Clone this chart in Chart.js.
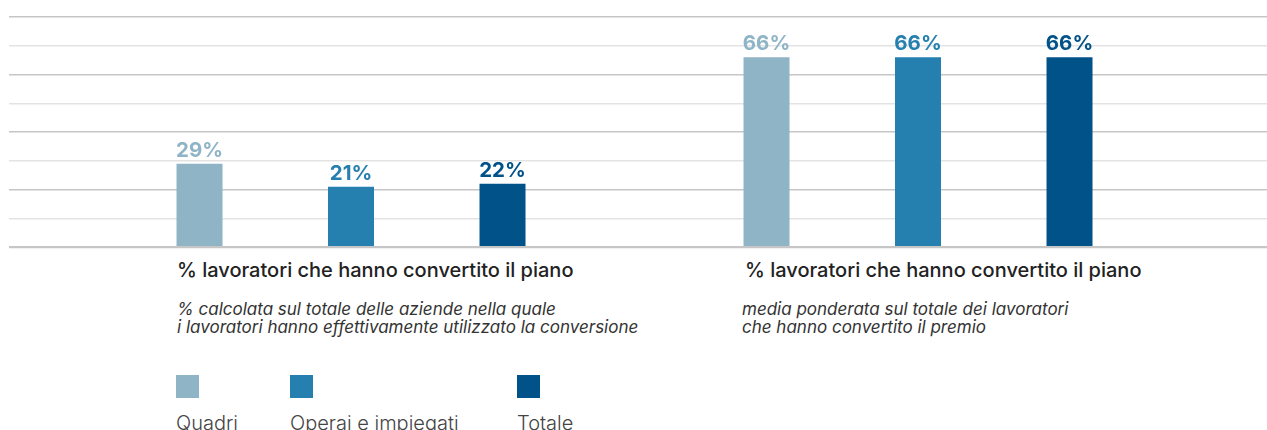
<!DOCTYPE html>
<html lang="it">
<head>
    <meta charset="UTF-8">
    <title>Lavoratori che hanno convertito il piano</title>
    <script src="https://cdn.jsdelivr.net/npm/chart.js"></script>
    <style>
        body { margin: 0; background: #fff; font-family: Inter, "Liberation Sans", sans-serif; }
        #wrap { position: relative; width: 1267px; height: 430px; overflow: hidden; }
        #chartBox { position: absolute; left: 0; top: 0; width: 1267px; height: 250px; }
        .title { position: absolute; top: 260px; font-size: 20px; line-height: 20px; font-weight: 500; color: #222; white-space: nowrap; }
        .note { position: absolute; top: 300px; font-size: 17px; line-height: 18px; font-style: italic; color: #333; white-space: nowrap; }
        .leg { position: absolute; top: 375px; }
        .leg .box { width: 23px; height: 23px; }
        .leg .txt { margin-top: 15px; font-size: 20px; line-height: 20px; font-weight: 300; color: #444; white-space: nowrap; }
    </style>
</head>
<body>
<div id="wrap">
    <div id="chartBox"><canvas id="graphCanvas"></canvas></div>
</div>

<script>
    // group titles and notes (x position of each group = its index)
    const groups = ['% lavoratori che hanno convertito il piano', '% lavoratori che hanno convertito il piano'];
    const notes = [
        ['% calcolata sul totale delle aziende nella quale', 'i lavoratori hanno effettivamente utilizzato la conversione'],
        ['media ponderata sul totale dei lavoratori', 'che hanno convertito il premio']
    ];

    // series
    const seriesNames = ['Quadri', 'Operai e impiegati', 'Totale'];
    const quadri = [29, 66];
    const operai = [21, 66];
    const totale = [22, 66];
    const colors = ['#8fb4c6', '#2580b0', '#02528a'];

    const yTicks = [0, 10, 20, 30, 40, 50, 60, 70, 80];

    const seriesValues = [quadri, operai, totale];
    const datasets = seriesNames.map((name, s) => ({
        label: name,
        data: seriesValues[s].map((v, i) => ({ x: i, y: v })),
        backgroundColor: colors[s],
        borderWidth: 0,
        categoryPercentage: 0.8016,
        barPercentage: 0.3036
    }));

    // value labels above bars, in the bar colour
    const valueLabels = {
        id: 'valueLabels',
        afterDatasetsDraw(chart) {
            const ctx = chart.ctx;
            ctx.save();
            ctx.font = '700 20.5px Inter, "Liberation Sans", sans-serif';
            ctx.textAlign = 'center';
            ctx.textBaseline = 'alphabetic';
            chart.data.datasets.forEach((ds, d) => {
                chart.getDatasetMeta(d).data.forEach((bar, i) => {
                    ctx.fillStyle = ds.backgroundColor;
                    ctx.fillText(ds.data[i].y + '%', bar.x, bar.y - 7);
                });
            });
            ctx.restore();
        }
    };

    const ctx = document.getElementById('graphCanvas').getContext('2d');
    const graph = new Chart(ctx, {
        type: 'bar',
        data: { datasets: datasets },
        options: {
            responsive: true,
            maintainAspectRatio: false,
            animation: false,
            events: [],
            layout: { padding: { left: 9, right: 0, top: 17, bottom: 3 } },
            plugins: { legend: { display: false }, tooltip: { enabled: false } },
            scales: {
                x: {
                    type: 'linear',
                    display: false,
                    offset: false,
                    bounds: 'data',
                    min: -0.6032,
                    max: 1.6155,
                    afterBuildTicks: (axis) => { axis.ticks = groups.map((g, i) => ({ value: i })); }
                },
                y: {
                    min: 0,
                    max: 80,
                    afterBuildTicks: (axis) => { axis.ticks = yTicks.map(v => ({ value: v })); },
                    border: { display: false },
                    ticks: { display: false },
                    grid: {
                        drawTicks: false,
                        color: (c) => c.tick.value % 20 === 0 ? '#c6c6c6' : '#e3e3e3',
                        lineWidth: (c) => c.tick.value === 0 ? 2.2 : 1.5
                    }
                }
            }
        },
        plugins: [valueLabels]
    });

    // titles, notes and legend below the chart
    const wrap = document.getElementById('wrap');
    const textLeft = [177, 745];
    const noteLeft = [177, 742];
    groups.forEach((g, i) => {
        const t = document.createElement('div');
        t.className = 'title';
        t.style.left = textLeft[i] + 'px';
        t.textContent = g;
        wrap.appendChild(t);
        const n = document.createElement('div');
        n.className = 'note';
        n.style.left = noteLeft[i] + 'px';
        n.innerHTML = notes[i].join('<br>');
        wrap.appendChild(n);
    });

    const legendLeft = [176, 290, 517];
    seriesNames.forEach((name, s) => {
        const item = document.createElement('div');
        item.className = 'leg';
        item.style.left = legendLeft[s] + 'px';
        item.innerHTML = '<div class="box" style="background:' + colors[s] + '"></div><div class="txt">' + name + '</div>';
        wrap.appendChild(item);
    });
</script>
</body>
</html>
